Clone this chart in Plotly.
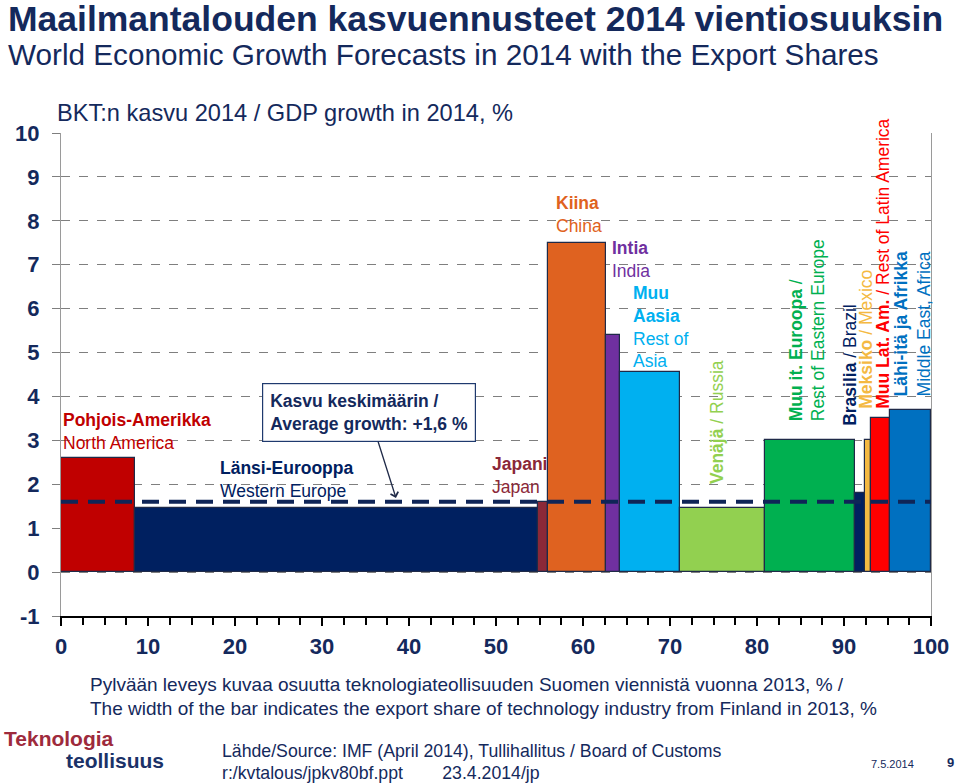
import plotly.graph_objects as go
import numpy as np

# ---------------- data ----------------
regions_fi = ["Pohjois-Amerikka", "Länsi-Eurooppa", "Japani", "Kiina", "Intia", "Muu Aasia",
              "Venäjä", "Muu it. Eurooppa", "Brasilia", "Meksiko", "Muu Lat. Am.", "Lähi-itä ja Afrikka"]
regions_en = ["North America", "Western Europe", "Japan", "China", "India", "Rest of Asia",
              "Russia", "Rest of Eastern Europe", "Brazil", "Mexico", "Rest of Latin America",
              "Middle East, Africa"]
export_share = [8.5, 46.3, 1.2, 6.6, 1.65, 6.85, 9.8, 10.4, 1.1, 0.66, 2.24, 4.7]   # bar width, %
gdp_growth = [2.6, 1.45, 1.6, 7.5, 5.4, 4.55, 1.45, 3.0, 1.8, 3.0, 3.5, 3.7]        # bar height, %
average_growth = 1.6
x_ticks = [0, 10, 20, 30, 40, 50, 60, 70, 80, 90, 100]
y_ticks = [-1, 0, 1, 2, 3, 4, 5, 6, 7, 8, 9, 10]

bar_colors = ["#C00000", "#002060", "#8B2838", "#DF6220", "#7030A0", "#00B0F0",
              "#92D050", "#00B050", "#002060", "#F4B942", "#FF0000", "#0070C0"]

NAVY = "#14295C"
FONT = "Liberation Sans, Arial, sans-serif"

W, H = 960, 784
L, R, T, B = 61, 29, 133, 168

widths = np.array(export_share)
lefts = np.concatenate([[0], np.cumsum(widths)[:-1]])
centers = lefts + widths / 2

fig = go.Figure()
fig.add_trace(go.Bar(
    x=centers, y=gdp_growth, width=widths, base=0,
    marker=dict(color=bar_colors, line=dict(color="#1F2A48", width=1.2)),
    hovertext=[f"{a} / {b}" for a, b in zip(regions_fi, regions_en)],
    showlegend=False,
))
fig.add_trace(go.Scatter(
    x=[0, 100], y=[average_growth, average_growth], mode="lines",
    line=dict(color="#0F2557", width=4, dash="17px,10px"),
    showlegend=False, hoverinfo="skip",
))

ann = []


def P(px, py):
    return (px - L) / (W - L - R), (H - B - py) / (H - T - B)


def txt(text, px, py, size, color, bold=False, xanchor="left", yanchor="middle"):
    x, y = P(px, py)
    ann.append(dict(text=text, x=x, y=y, xref="paper", yref="paper", showarrow=False,
                    xanchor=xanchor, yanchor=yanchor, align="left",
                    font=dict(family=FONT, size=size, color=color,
                              weight="bold" if bold else "normal")))


def lab(text, x, y, color, angle=0, xanchor="left", yanchor="middle"):
    ann.append(dict(text=text, x=x, y=y, xref="x", yref="y", showarrow=False,
                    xanchor=xanchor, yanchor=yanchor, align="left", textangle=angle,
                    font=dict(family=FONT, size=17.5, color=color)))


# titles
txt("Maailmantalouden kasvuennusteet 2014 vientiosuuksin", 6, 19, 35.5, NAVY, bold=True)
txt("World Economic Growth Forecasts in 2014 with the Export Shares", 6, 55, 29.7, NAVY)
txt("BKT:n kasvu 2014 / GDP growth in 2014, %", 55, 113, 23.6, NAVY)

# bar labels
lab("<b>Pohjois-Amerikka</b><br>North America", 0.05, 3.2, "#C00000")
lab("<b>Länsi-Eurooppa</b><br>Western Europe", 18.0, 2.12, "#002060")
lab("<b>Japani</b><br>Japan", 49.3, 2.21, "#8B2838")
lab("<b>Kiina</b><br>China", 56.7, 8.15, "#DF6220")
lab("<b>Intia</b><br>India", 63.1, 7.12, "#7030A0")
lab("<b>Muu</b><br><b>Aasia</b><br>Rest of<br>Asia", 65.5, 5.58, "#00B0F0")

lab("<b>Venäjä</b> / Russia", 75.4, 1.96, "#92D050", angle=-90, xanchor="center", yanchor="bottom")
lab("<b>Muu it. Euroopa</b> /<br>Rest of Eastern Europe", 85.8, 3.40, "#00B050",
    angle=-90, xanchor="center", yanchor="bottom")
lab("<b>Brasilia</b> / Brazil", 90.6, 3.29, "#002060", angle=-90, xanchor="center", yanchor="bottom")
lab("<b>Meksiko</b> / Mexico", 92.5, 3.68, "#F4B942", angle=-90, xanchor="center", yanchor="bottom")
lab("<b>Muu Lat. Am.</b> / Rest of Latin America", 94.4, 3.68, "#FF0000",
    angle=-90, xanchor="center", yanchor="bottom")
lab("<b>Lähi-itä ja Afrikka</b><br>Middle East, Africa", 97.85, 3.95, "#0070C0",
    angle=-90, xanchor="center", yanchor="bottom")

# average growth call-out
ann.append(dict(text="<b>Kasvu keskimäärin /<br>Average growth: +1,6 %</b>",
                x=38.5, y=1.69, xref="x", yref="y", ax=-27, ay=-85,
                showarrow=True, arrowhead=4, arrowsize=1.2, arrowwidth=1.3, arrowcolor="#1F2A48",
                align="left", bordercolor="#1F3A6E", borderwidth=1.2, borderpad=7, bgcolor="white",
                font=dict(family=FONT, size=17.5, color=NAVY)))

# footer
txt("Pylvään leveys kuvaa osuutta teknologiateollisuuden Suomen viennistä vuonna 2013, % /",
    88, 684, 19, NAVY)
txt("The width of the bar indicates the export share of technology industry from Finland in 2013, %",
    88, 708, 19, NAVY)
txt("Teknologia", 2, 738, 21, "#9E2A3C", bold=True)
txt("teollisuus", 64, 760, 21, "#1B3268", bold=True)
txt("Lähde/Source: IMF (April 2014), Tullihallitus / Board of Customs", 220, 751, 17.7, NAVY)
txt("r:/kvtalous/jpkv80bf.ppt&nbsp;&nbsp;&nbsp;&nbsp;&nbsp;&nbsp;&nbsp;&nbsp;23.4.2014/jp",
    220, 773, 17.7, NAVY)
txt("7.5.2014", 869, 764, 11, NAVY)
txt("9", 950, 762, 13, NAVY, bold=True, xanchor="center")

fig.update_layout(
    width=W, height=H,
    margin=dict(l=L, r=R, t=T, b=B, pad=0),
    paper_bgcolor="white", plot_bgcolor="white",
    bargap=0, showlegend=False,
    annotations=ann,
    xaxis=dict(range=[0, 100], tickvals=x_ticks, ticktext=[str(v) for v in x_ticks],
               showgrid=False, zeroline=False,
               showline=True, linecolor="black", linewidth=2,
               ticks="outside", ticklen=8, tickwidth=2, tickcolor="black",
               minor=dict(dtick=2.5, ticks="outside", ticklen=7, tickwidth=2, tickcolor="black"),
               tickfont=dict(family=FONT, size=22, color=NAVY, weight="bold"),
               ticklabelstandoff=2),
    yaxis=dict(range=[-1, 10], tickvals=y_ticks, ticktext=[str(v) for v in y_ticks],
               showgrid=True, gridcolor="#7F7F7F", griddash="dash", gridwidth=1,
               zeroline=False,
               showline=True, linecolor="#9A9A9A", linewidth=1, mirror=True,
               ticks="outside", ticklen=8, tickwidth=1, tickcolor="#7F7F7F",
               tickfont=dict(family=FONT, size=22, color=NAVY, weight="bold"),
               ticklabelstandoff=8),
)

fig.write_html("out.html")
